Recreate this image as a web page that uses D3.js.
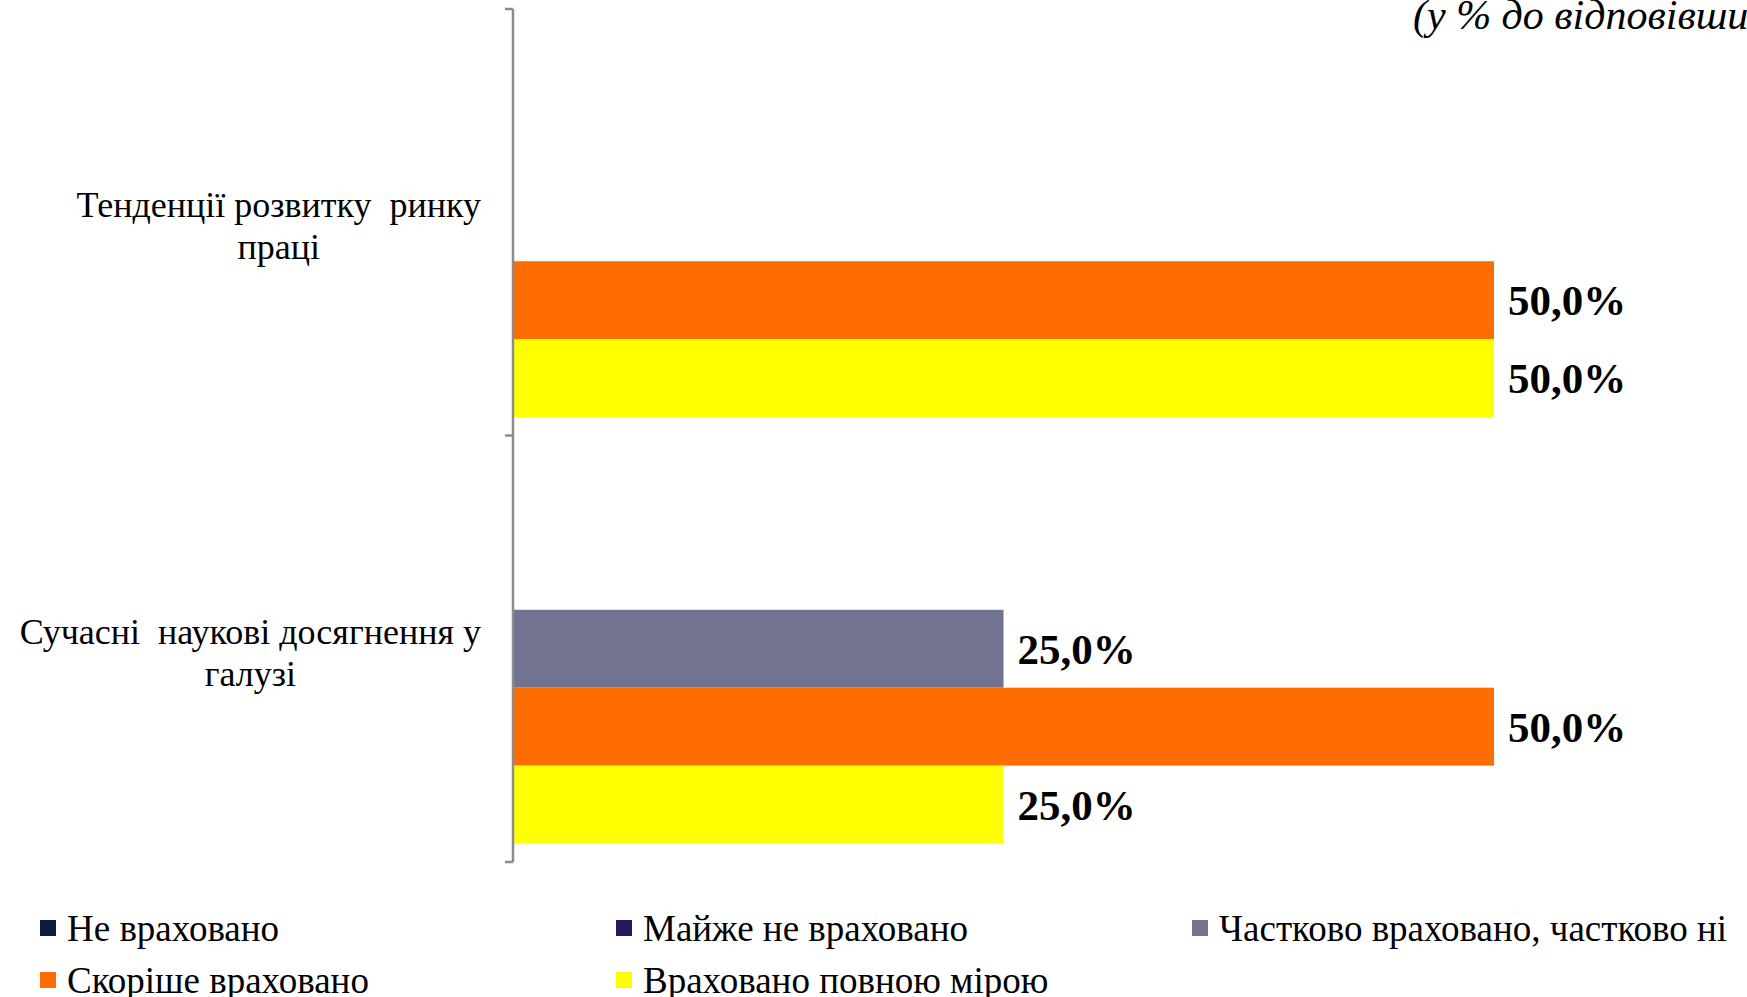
<!DOCTYPE html>
<html lang="uk">
<head>
  <meta charset="UTF-8">
  <title>Bar chart</title>
  <script src="https://d3js.org/d3.v7.min.js"></script>
  <style>
    body {
      margin: 0;
      background: white;
      font-family: "Liberation Serif", "DejaVu Serif", serif;
      overflow: hidden;
    }
    svg {
      display: block;
    }
    .axis line, .axis path {
      stroke: #8c8c8c;
      stroke-width: 2.5px;
      fill: none;
    }
  </style>
</head>
<body>
  <div id="chart"></div>
  <script>
    const width = 1747,
          height = 997;

    // data
    const categories = ["Тенденції розвитку  ринку\nпраці", "Сучасні  наукові досягнення у\nгалузі"];
    const seriesNames = ["Не враховано", "Майже не враховано", "Частково враховано, частково ні",
                         "Скоріше враховано", "Враховано повною мірою"];
    const seriesColors = ["#0d1a3a", "#2b185c", "#717390", "#ff6d00", "#ffff00"];
    const notTaken = [0, 0];
    const almostNot = [0, 0];
    const partly = [0, 25];
    const rather = [50, 50];
    const fully = [50, 25];
    const seriesValues = [notTaken, almostNot, partly, rather, fully];

    const svg = d3.select("#chart")
      .append("svg")
      .attr("width", width)
      .attr("height", height);

    const x = d3.scaleLinear()
      .domain([0, 50])
      .range([513, 1494]);

    const y0 = d3.scaleBand()
      .domain(categories)
      .range([9, 862]);

    const y1 = d3.scaleBand()
      .domain(seriesNames)
      .range([18.5, y0.bandwidth() - 18.5]);

    const color = d3.scaleOrdinal()
      .domain(seriesNames)
      .range(seriesColors);

    // flat list of bars
    let bars = [];
    categories.forEach((c, ci) => {
      seriesNames.forEach((s, si) => {
        bars.push({ cat: c, series: s, value: seriesValues[si][ci] });
      });
    });

    const groups = svg.append("g")
      .selectAll("g")
      .data(categories)
      .enter().append("g")
      .attr("transform", d => `translate(0,${y0(d)})`);

    groups.selectAll("rect")
      .data(c => bars.filter(b => b.cat === c && b.value > 0))
      .enter().append("rect")
      .attr("x", x(0))
      .attr("y", d => y1(d.series))
      .attr("width", d => x(d.value) - x(0))
      .attr("height", y1.bandwidth())
      .attr("fill", d => color(d.series));

    groups.selectAll("text.val")
      .data(c => bars.filter(b => b.cat === c && b.value > 0))
      .enter().append("text")
      .attr("class", "val")
      .attr("x", d => x(d.value) + 14)
      .attr("y", d => y1(d.series) + y1.bandwidth() / 2)
      .attr("dy", "0.35em")
      .style("font-size", "43px")
      .style("font-weight", "bold")
      .text(d => d3.format(".1f")(d.value).replace(".", ",") + "%");

    // vertical axis with ticks between categories
    const axis = svg.append("g").attr("class", "axis");
    const bounds = categories.map(c => y0(c)).concat([y0.range()[1]]);
    axis.append("line")
      .attr("x1", x(0)).attr("x2", x(0))
      .attr("y1", y0.range()[0]).attr("y2", y0.range()[1]);
    axis.selectAll("line.tick")
      .data(bounds)
      .enter().append("line")
      .attr("class", "tick")
      .attr("x1", x(0) - 8).attr("x2", x(0))
      .attr("y1", d => d).attr("y2", d => d);

    // category labels: block right-aligned, lines centred inside it
    const labelRight = 481;
    const catLabels = svg.append("g")
      .selectAll("text")
      .data(categories)
      .enter().append("text")
      .attr("y", d => y0(d) + 208)
      .attr("text-anchor", "middle")
      .style("font-size", "36px")
      .style("white-space", "pre");

    catLabels.selectAll("tspan")
      .data(d => d.split("\n"))
      .enter().append("tspan")
      .attr("dy", (d, i) => i === 0 ? 0 : 42)
      .text(d => d);

    catLabels.each(function() {
      let maxW = 0;
      d3.select(this).selectAll("tspan").each(function() {
        maxW = Math.max(maxW, this.getComputedTextLength());
      });
      d3.select(this).selectAll("tspan").attr("x", labelRight - maxW / 2);
    });

    // legend
    const legendPos = [[40, 928], [616, 928], [1192, 928], [40, 980], [616, 980]];
    const legend = svg.append("g")
      .selectAll("g")
      .data(seriesNames)
      .enter().append("g")
      .attr("transform", (d, i) => `translate(${legendPos[i][0]},${legendPos[i][1]})`);

    legend.append("rect")
      .attr("x", 0)
      .attr("y", -8)
      .attr("width", 16)
      .attr("height", 16)
      .attr("fill", d => color(d));

    legend.append("text")
      .attr("x", 27)
      .attr("dy", "0.35em")
      .style("font-size", "37px")
      .style("white-space", "pre")
      .text(d => d);

    // unit note, runs past the right edge as in the original
    svg.append("text")
      .attr("x", 1413)
      .attr("y", 29)
      .style("font-size", "42px")
      .style("font-style", "italic")
      .text("(у % до відповівших)");
  </script>
</body>
</html>
